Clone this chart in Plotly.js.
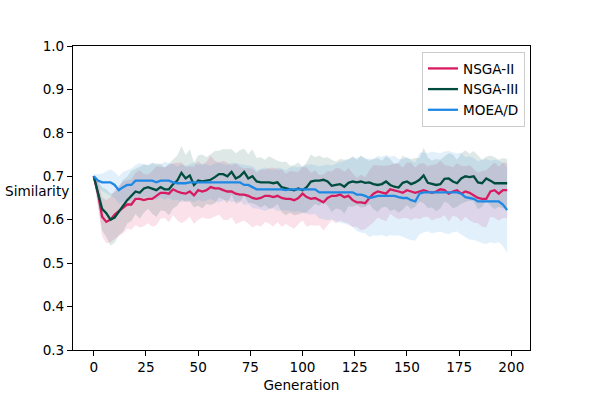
<!DOCTYPE html>
<html>
<head>
<meta charset="utf-8">
<script src="https://cdn.plot.ly/plotly-3.0.1.min.js"></script>
<style>
  html, body { margin: 0; padding: 0; background: #fff; }
  #chart { width: 590px; height: 393px; }
</style>
</head>
<body>
<div id="chart"></div>
<script>
// generations sampled every 2 steps (0..198)
const generations = Array.from({ length: 100 }, (_, i) => i * 2);

const nsga2Mean = [
  0.700, 0.660, 0.607, 0.595, 0.600, 0.612, 0.620, 0.628, 0.635, 0.635,
  0.648, 0.648, 0.645, 0.648, 0.648, 0.655, 0.662, 0.662, 0.660, 0.670,
  0.665, 0.662, 0.660, 0.665, 0.656, 0.668, 0.665, 0.668, 0.675, 0.672,
  0.672, 0.668, 0.665, 0.665, 0.660, 0.658, 0.658, 0.655, 0.650, 0.648,
  0.650, 0.655, 0.655, 0.652, 0.655, 0.650, 0.648, 0.648, 0.645, 0.650,
  0.660, 0.652, 0.648, 0.650, 0.645, 0.640, 0.650, 0.655, 0.655, 0.658,
  0.652, 0.655, 0.645, 0.640, 0.640, 0.638, 0.650, 0.660, 0.665, 0.662,
  0.660, 0.670, 0.668, 0.665, 0.662, 0.668, 0.665, 0.662, 0.665, 0.668,
  0.665, 0.662, 0.665, 0.670, 0.668, 0.660, 0.665, 0.668, 0.660, 0.665,
  0.662, 0.655, 0.650, 0.648, 0.648, 0.665, 0.668, 0.660, 0.668, 0.668
];
const nsga3Mean = [
  0.700, 0.660, 0.625, 0.615, 0.600, 0.605, 0.620, 0.632, 0.645, 0.655,
  0.665, 0.662, 0.672, 0.675, 0.672, 0.668, 0.675, 0.670, 0.670, 0.682,
  0.690, 0.708, 0.695, 0.702, 0.680, 0.690, 0.688, 0.690, 0.692, 0.698,
  0.705, 0.705, 0.700, 0.710, 0.695, 0.700, 0.710, 0.695, 0.700, 0.688,
  0.686, 0.686, 0.686, 0.684, 0.686, 0.675, 0.672, 0.670, 0.668, 0.672,
  0.668, 0.675, 0.688, 0.690, 0.690, 0.692, 0.688, 0.678, 0.680, 0.682,
  0.676, 0.685, 0.688, 0.686, 0.688, 0.685, 0.686, 0.682, 0.680, 0.682,
  0.688, 0.680, 0.676, 0.674, 0.685, 0.688, 0.682, 0.686, 0.692, 0.702,
  0.685, 0.682, 0.680, 0.682, 0.694, 0.695, 0.688, 0.684, 0.695, 0.700,
  0.698, 0.700, 0.686, 0.684, 0.695, 0.690, 0.684, 0.684, 0.684, 0.684
];
const moeadMean = [
  0.700, 0.690, 0.686, 0.686, 0.686, 0.680, 0.668, 0.675, 0.680, 0.680,
  0.690, 0.690, 0.690, 0.690, 0.690, 0.686, 0.690, 0.690, 0.690, 0.686,
  0.684, 0.684, 0.684, 0.686, 0.686, 0.686, 0.686, 0.686, 0.686, 0.686,
  0.686, 0.686, 0.686, 0.686, 0.686, 0.686, 0.680, 0.680, 0.675, 0.670,
  0.670, 0.670, 0.670, 0.670, 0.670, 0.670, 0.668, 0.670, 0.670, 0.670,
  0.670, 0.670, 0.670, 0.670, 0.663, 0.663, 0.663, 0.663, 0.663, 0.663,
  0.663, 0.663, 0.663, 0.658, 0.658, 0.655, 0.650, 0.652, 0.655, 0.655,
  0.655, 0.655, 0.655, 0.652, 0.650, 0.650, 0.645, 0.642, 0.660, 0.663,
  0.663, 0.663, 0.663, 0.663, 0.663, 0.663, 0.663, 0.663, 0.660, 0.652,
  0.650, 0.648, 0.642, 0.642, 0.642, 0.642, 0.642, 0.642, 0.635, 0.622
];

// spread (std) around each mean
const nsga2Sd = [
  0.004, 0.030, 0.045, 0.050, 0.052, 0.056, 0.058, 0.060, 0.056, 0.058,
  0.060, 0.066, 0.060, 0.056, 0.064, 0.068, 0.060, 0.058, 0.066, 0.060,
  0.066, 0.070, 0.062, 0.058, 0.066, 0.068, 0.060, 0.066, 0.072, 0.064,
  0.060, 0.068, 0.066, 0.060, 0.070, 0.064, 0.060, 0.064, 0.068, 0.060,
  0.066, 0.060, 0.064, 0.068, 0.060, 0.066, 0.058, 0.064, 0.066, 0.060,
  0.062, 0.068, 0.060, 0.064, 0.058, 0.064, 0.062, 0.056, 0.064, 0.060,
  0.058, 0.064, 0.062, 0.056, 0.064, 0.060, 0.064, 0.066, 0.060, 0.062,
  0.064, 0.056, 0.062, 0.064, 0.058, 0.064, 0.066, 0.058, 0.064, 0.062,
  0.058, 0.064, 0.062, 0.066, 0.058, 0.064, 0.056, 0.062, 0.064, 0.058,
  0.064, 0.062, 0.058, 0.064, 0.066, 0.058, 0.064, 0.062, 0.064, 0.064
];
const nsga3Sd = [
  0.004, 0.030, 0.050, 0.055, 0.060, 0.058, 0.055, 0.060, 0.054, 0.058,
  0.052, 0.060, 0.056, 0.050, 0.058, 0.062, 0.054, 0.050, 0.060, 0.056,
  0.058, 0.062, 0.054, 0.060, 0.052, 0.058, 0.062, 0.054, 0.058, 0.060,
  0.054, 0.058, 0.062, 0.052, 0.058, 0.060, 0.054, 0.056, 0.062, 0.054,
  0.058, 0.052, 0.060, 0.056, 0.050, 0.058, 0.062, 0.054, 0.058, 0.060,
  0.052, 0.058, 0.062, 0.054, 0.058, 0.050, 0.056, 0.060, 0.054, 0.058,
  0.062, 0.054, 0.058, 0.052, 0.060, 0.056, 0.050, 0.058, 0.062, 0.054,
  0.058, 0.060, 0.052, 0.058, 0.062, 0.054, 0.058, 0.056, 0.050, 0.064,
  0.058, 0.054, 0.060, 0.056, 0.052, 0.058, 0.062, 0.054, 0.058, 0.060,
  0.054, 0.058, 0.062, 0.054, 0.050, 0.058, 0.060, 0.054, 0.058, 0.056
];
const moeadSd = [
  0.004, 0.015, 0.020, 0.025, 0.030, 0.030, 0.032, 0.035, 0.034, 0.038,
  0.036, 0.040, 0.038, 0.036, 0.042, 0.040, 0.038, 0.044, 0.040, 0.042,
  0.038, 0.044, 0.040, 0.042, 0.046, 0.040, 0.044, 0.042, 0.038, 0.044,
  0.046, 0.042, 0.040, 0.046, 0.044, 0.042, 0.046, 0.044, 0.048, 0.044,
  0.046, 0.050, 0.046, 0.044, 0.050, 0.048, 0.046, 0.050, 0.052, 0.050,
  0.054, 0.056, 0.058, 0.056, 0.060, 0.062, 0.064, 0.062, 0.066, 0.070,
  0.072, 0.076, 0.080, 0.084, 0.088, 0.086, 0.090, 0.088, 0.092, 0.090,
  0.094, 0.090, 0.092, 0.088, 0.090, 0.094, 0.092, 0.090, 0.094, 0.092,
  0.090, 0.094, 0.092, 0.090, 0.094, 0.096, 0.092, 0.090, 0.094, 0.092,
  0.096, 0.094, 0.092, 0.096, 0.098, 0.094, 0.096, 0.094, 0.096, 0.098
];

const seriesNames = ["NSGA-II", "NSGA-III", "MOEA/D"];
const seriesColors = ["#D81B60", "#004D40", "#1E88E5"];
const seriesFills = ["rgba(216,27,96,0.13)", "rgba(0,77,64,0.13)", "rgba(30,136,229,0.13)"];
const means = [nsga2Mean, nsga3Mean, moeadMean];
const sds = [nsga2Sd, nsga3Sd, moeadSd];

const traces = [];
means.forEach((m, k) => {
  const upper = m.map((v, i) => v + sds[k][i]);
  const lower = m.map((v, i) => v - sds[k][i]);
  traces.push({ x: generations, y: upper, mode: "lines", line: { width: 0 }, showlegend: false, hoverinfo: "skip" });
  traces.push({ x: generations, y: lower, mode: "lines", line: { width: 0 }, fill: "tonexty", fillcolor: seriesFills[k], showlegend: false, hoverinfo: "skip" });
});
means.forEach((m, k) => {
  traces.push({ x: generations, y: m, mode: "lines", name: seriesNames[k], line: { color: seriesColors[k], width: 2.3 } });
});

const font = { family: "DejaVu Sans", size: 13.6, color: "#000" };

const layout = {
  width: 590, height: 393,
  margin: { l: 73, r: 60, t: 46, b: 43 },
  paper_bgcolor: "#fff", plot_bgcolor: "#fff",
  font: font,
  showlegend: true,
  legend: {
    x: 0.989, y: 0.98, xanchor: "right", yanchor: "top", traceorder: "normal",
    bordercolor: "#cccccc", borderwidth: 1, bgcolor: "rgba(255,255,255,0.8)",
    font: font, tracegroupgap: 0
  },
  xaxis: {
    range: [-9.95, 208.95], tickvals: [0, 25, 50, 75, 100, 125, 150, 175, 200],
    showgrid: false, zeroline: false, showline: true, mirror: true, linecolor: "#000", linewidth: 1,
    ticks: "outside", ticklen: 5, tickcolor: "#000",
    title: { text: "Generation", font: font, standoff: 8 }
  },
  yaxis: {
    range: [0.3, 1.0], dtick: 0.1, tickformat: ".1f",
    showgrid: false, zeroline: false, showline: true, mirror: true, linecolor: "#000", linewidth: 1,
    ticks: "outside", ticklen: 5, tickcolor: "#000"
  },
  annotations: [{
    text: "Similarity", xref: "paper", yref: "paper", x: 0, y: 0.523,
    xanchor: "right", yanchor: "middle", xshift: -2, showarrow: false, font: font
  }]
};

Plotly.newPlot("chart", traces, layout, { displayModeBar: false, staticPlot: true });
</script>
</body>
</html>
